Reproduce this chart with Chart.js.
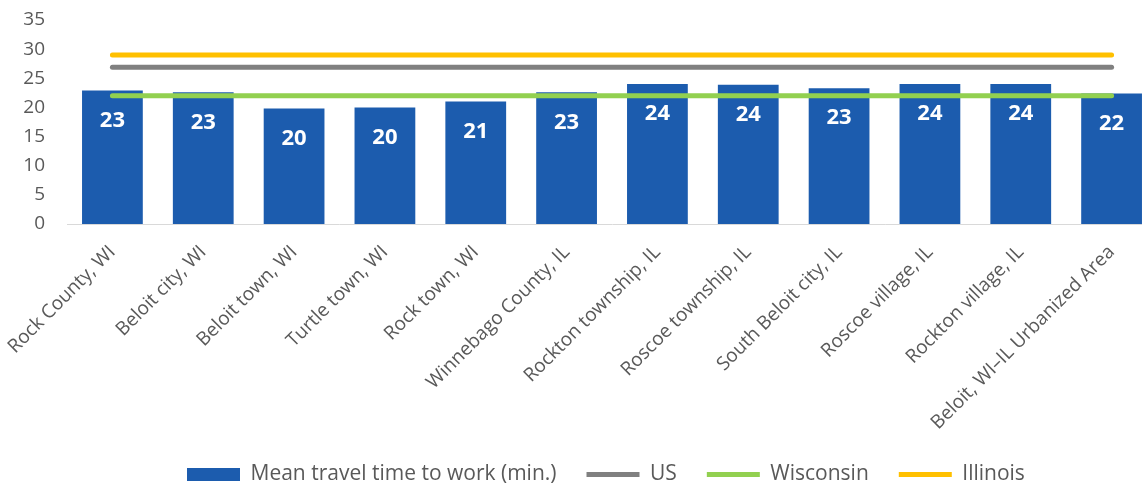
<!DOCTYPE html>
<html>
<head>
<meta charset="utf-8">
<script src="https://cdn.jsdelivr.net/npm/chart.js@4.4.1/dist/chart.umd.min.js"></script>
<style>
  html, body { margin: 0; padding: 0; background: #ffffff; overflow: hidden; }
  #wrap { width: 1157px; height: 487px; }
</style>
</head>
<body>
<div id="wrap"><canvas id="c" width="1157" height="487"></canvas></div>
<script>
const categories = [
  'Rock County, WI', 'Beloit city, WI', 'Beloit town, WI', 'Turtle town, WI',
  'Rock town, WI', 'Winnebago County, IL', 'Rockton township, IL', 'Roscoe township, IL',
  'South Beloit city, IL', 'Roscoe village, IL', 'Rockton village, IL', 'Beloit, WI\u2013IL Urbanized Area'
];
const meanTravelTime = [22.9, 22.6, 19.8, 20.0, 21.0, 22.6, 24.0, 23.9, 23.3, 24.0, 24.0, 22.4];
const usValues        = [26.9, 26.9, 26.9, 26.9, 26.9, 26.9, 26.9, 26.9, 26.9, 26.9, 26.9, 26.9];
const wisconsinValues = [22.0, 22.0, 22.0, 22.0, 22.0, 22.0, 22.0, 22.0, 22.0, 22.0, 22.0, 22.0];
const illinoisValues  = [29.0, 29.0, 29.0, 29.0, 29.0, 29.0, 29.0, 29.0, 29.0, 29.0, 29.0, 29.0];
const seriesNames = ['Mean travel time to work (min.)', 'US', 'Wisconsin', 'Illinois'];
const yTickLabels = ['0', '5', '10', '15', '20', '25', '30', '35'];

const FONT = '"Open Sans", "DejaVu Sans", sans-serif';
const TEXT = '#595959';

const barLabels = {
  id: 'barLabels',
  afterDatasetsDraw(chart) {
    const meta = chart.getDatasetMeta(0);
    const ctx = chart.ctx;
    ctx.save();
    ctx.font = 'bold 22px ' + FONT;
    ctx.fillStyle = '#ffffff';
    ctx.textAlign = 'center';
    ctx.textBaseline = 'middle';
    meta.data.forEach((bar, i) => {
      ctx.fillText(String(Math.round(meanTravelTime[i])), bar.x, bar.y + 30);
    });
    ctx.restore();
  }
};

const legendPlace = {
  id: 'legendPlace',
  afterLayout(chart) {
    const lg = chart.legend;
    if (!lg) return;
    lg.left = 157;
    lg.right = lg.left + 1000;
    lg.top = 434;
    lg.bottom = lg.top + lg.height;
  }
};

new Chart(document.getElementById('c'), {
  data: {
    labels: categories,
    datasets: [
      {
        type: 'bar',
        label: seriesNames[0],
        data: meanTravelTime,
        backgroundColor: '#1C5CAE',
        borderWidth: 0,
        categoryPercentage: 1.0,
        barPercentage: 0.669,
        order: 2
      },
      {
        type: 'line',
        label: seriesNames[1],
        data: usValues,
        borderColor: '#808080',
        backgroundColor: '#808080',
        borderWidth: 5,
        borderCapStyle: 'round',
        pointRadius: 0,
        fill: false,
        order: 1
      },
      {
        type: 'line',
        label: seriesNames[2],
        data: wisconsinValues,
        borderColor: '#92D050',
        backgroundColor: '#92D050',
        borderWidth: 5,
        borderCapStyle: 'round',
        pointRadius: 0,
        fill: false,
        order: 1
      },
      {
        type: 'line',
        label: seriesNames[3],
        data: illinoisValues,
        borderColor: '#FFC000',
        backgroundColor: '#FFC000',
        borderWidth: 5,
        borderCapStyle: 'round',
        pointRadius: 0,
        fill: false,
        order: 1
      }
    ]
  },
  options: {
    responsive: false,
    devicePixelRatio: 1,
    animation: false,
    layout: { padding: { top: 20, left: 0, right: 0, bottom: -30 } },
    plugins: {
      tooltip: { enabled: false },
      legend: {
        position: 'bottom',
        align: 'start',
        labels: {
          font: { family: FONT, size: 21 },
          color: TEXT,
          padding: 30,
          usePointStyle: true,
          pointStyleWidth: 53,
          boxHeight: 13,
          generateLabels(chart) {
            const items = Chart.defaults.plugins.legend.labels.generateLabels(chart);
            items.forEach(it => {
              if (it.datasetIndex === 0) { it.pointStyle = 'rect'; it.lineWidth = 0; }
              else { it.pointStyle = 'line'; }
            });
            return items.sort((a, b) => a.datasetIndex - b.datasetIndex);
          }
        }
      }
    },
    scales: {
      x: {
        grid: { display: false, drawTicks: false },
        border: { display: true, color: '#D9D9D9', width: 1 },
        ticks: {
          autoSkip: false,
          maxRotation: 45,
          minRotation: 45,
          padding: 17,
          color: TEXT,
          font: { family: FONT, size: 19 }
        },
        afterFit(scale) {
          scale.height = 232;
          scale.paddingLeft = 0;
          scale.paddingRight = 0;
        }
      },
      y: {
        min: 0,
        max: 35,
        grid: { display: false, drawTicks: false },
        border: { display: false },
        ticks: {
          stepSize: 5,
          padding: 22,
          color: TEXT,
          font: { family: FONT, size: 19 },
          callback(value) { return yTickLabels[Math.round(value / 5)]; }
        },
        afterFit(scale) {
          scale.width = 67;
          scale.paddingTop = 0;
          scale.paddingBottom = 0;
        }
      }
    }
  },
  plugins: [barLabels, legendPlace]
});
</script>
</body>
</html>
